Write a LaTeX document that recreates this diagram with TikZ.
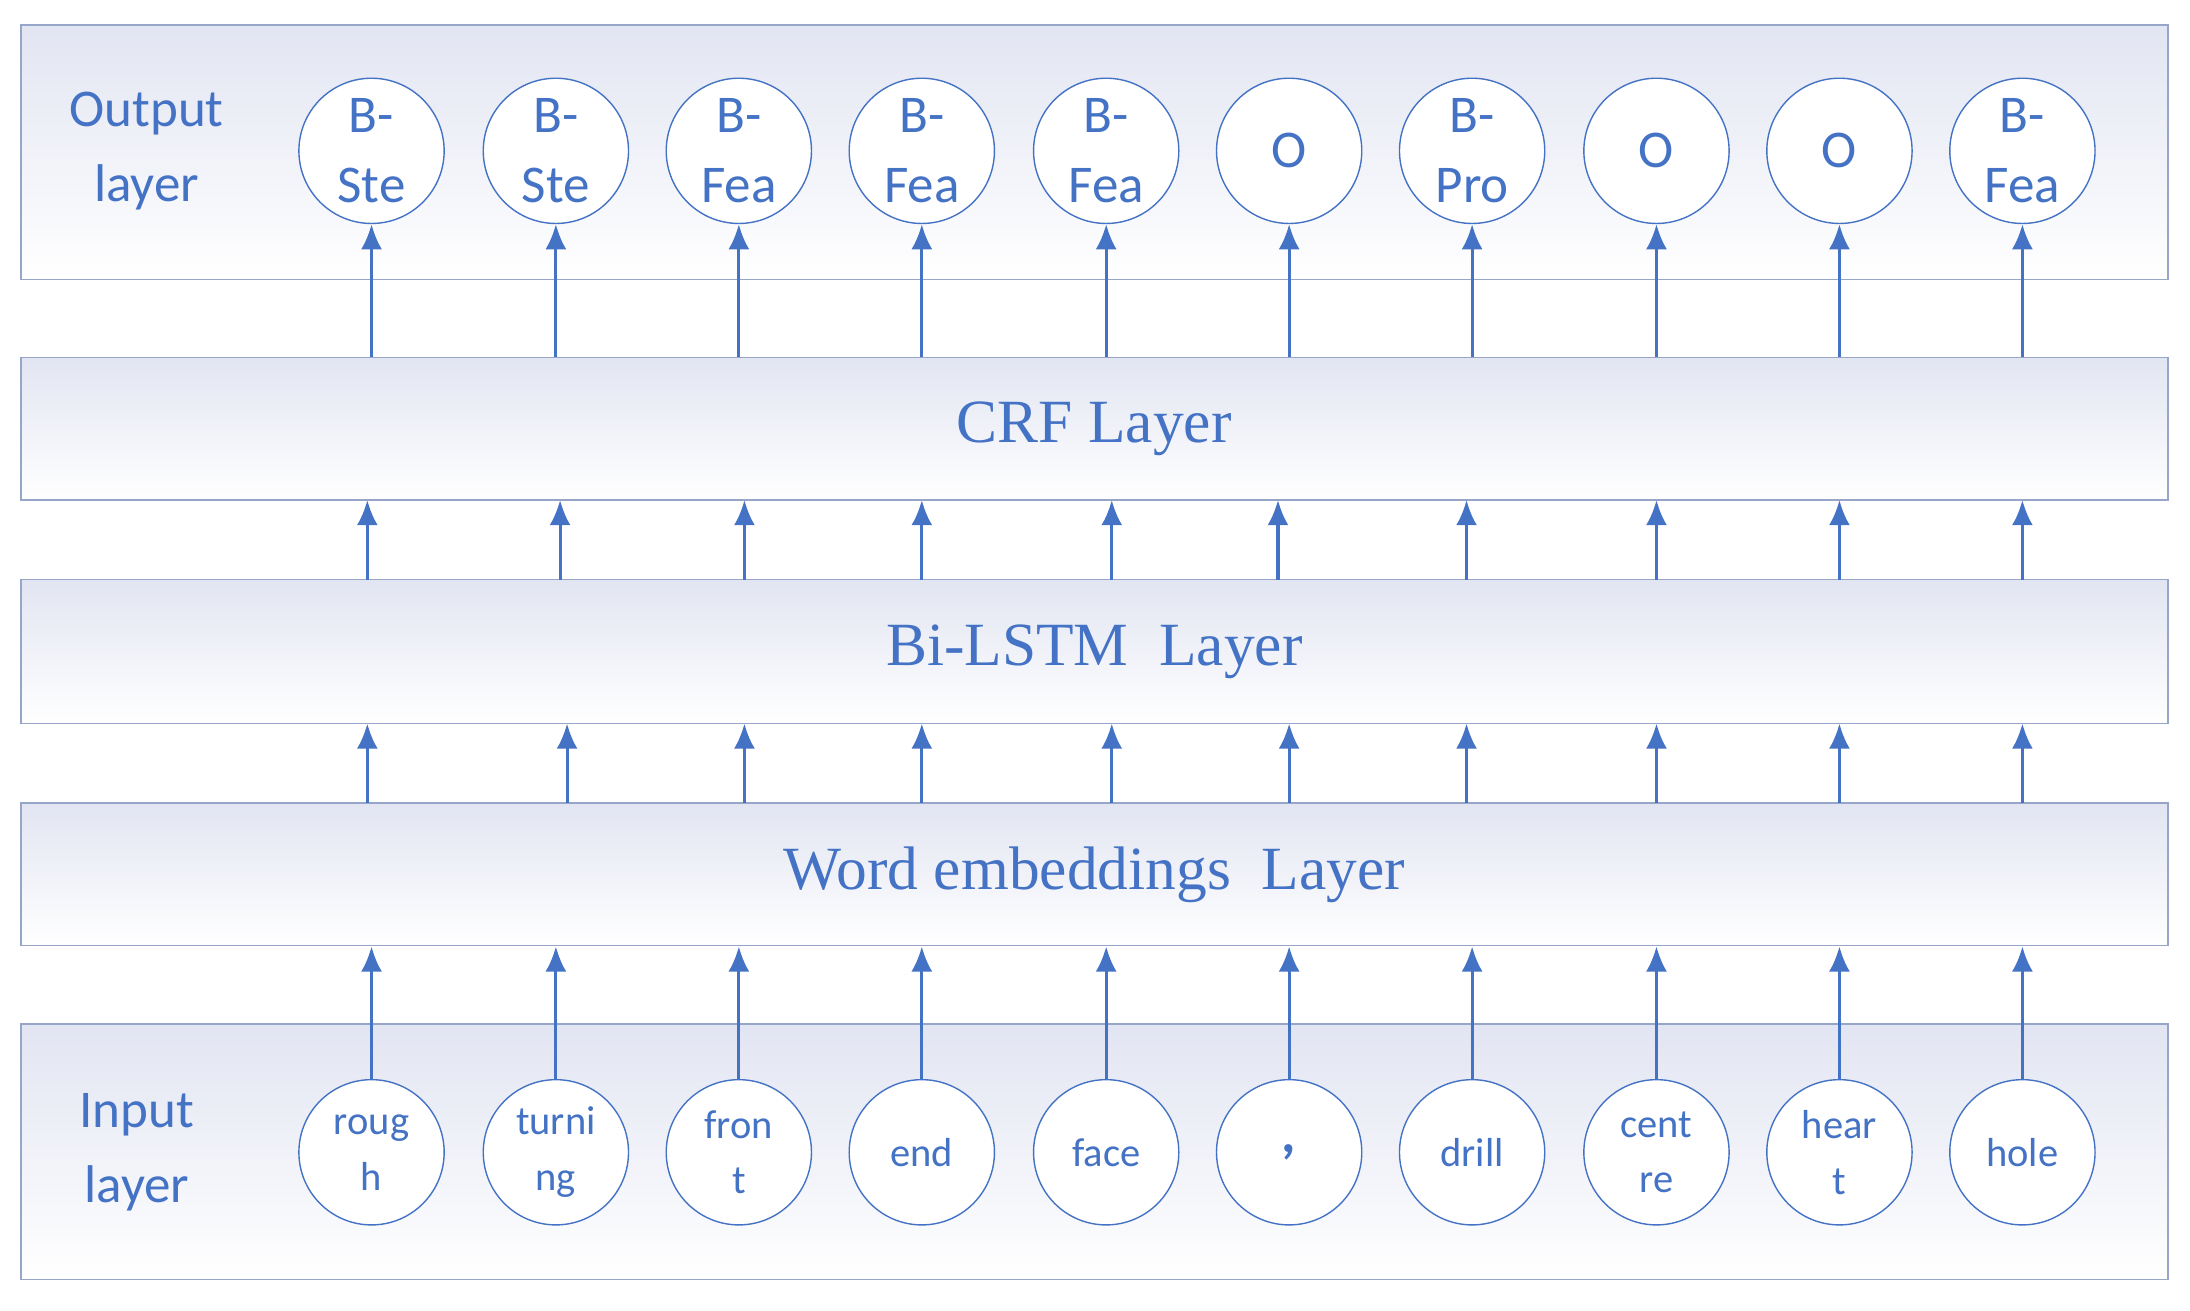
\documentclass[tikz,border=0pt]{standalone}
\usepackage{fontspec}
\usetikzlibrary{arrows.meta}
\setmainfont{Liberation Serif}
\newfontfamily\carl{Carlito}
\begin{document}
\definecolor{tb}{RGB}{68,114,196}
\definecolor{bd}{RGB}{150,165,200}
\definecolor{lav}{RGB}{226,229,242}
\begin{tikzpicture}[x=1pt,y=-1pt,
 lay/.style={draw=bd,line width=1.2pt,top color=lav,bottom color=white},
 circ/.style={circle,draw=tb,line width=1pt,fill=white,minimum size=104pt,inner sep=0pt,text=tb,font=\carl\fontsize{38}{50}\selectfont,align=center},
 icirc/.style={circ,font=\carl\fontsize{29}{40}\selectfont},
 arr/.style={draw=tb,line width=2.2pt,-{Latex[length=18pt,width=15pt]}},
 ltxt/.style={text=tb,font=\fontsize{44}{44}\selectfont},
 side/.style={text=tb,font=\carl\fontsize{38}{54}\selectfont,align=center}]
\useasboundingbox (0,0) rectangle (1568,938);
\fill[lay] (15,18) rectangle (1552,200);
\node[lay,minimum width=1537pt,minimum height=102pt,inner sep=0pt] (crf) at (783.5,307) {};
\node[lay,minimum width=1537pt,minimum height=103pt,inner sep=0pt] (bil) at (783.5,466.5) {};
\node[lay,minimum width=1537pt,minimum height=102pt,inner sep=0pt] (emb) at (783.5,626) {};
\fill[lay] (15,733) rectangle (1552,916);
\draw[bd,line width=1.2pt] (15,18) rectangle (1552,200) (15,733) rectangle (1552,916);
\node[ltxt] at (783.5,307) {CRF Layer};
\node[ltxt] at (783.5,466.5) {Bi-LSTM~ Layer};
\node[ltxt] at (783.5,626) {Word embeddings~ Layer};
\node[side] at (105,108) {Output\\layer};
\node[side] at (98,825) {Input\\layer};
\foreach \i/\x/\o/\n/\a/\b in {1/266/{B-\\Ste}/{roug\\h}/263/263,2/398/{B-\\Ste}/{turni\\ng}/401/406,3/529/{B-\\Fea}/{fron\\t}/533/533,4/660/{B-\\Fea}/end/660/660,5/792/{B-\\Fea}/face/796/796,6/923/O/{\textbf{\fontsize{40}{40}\selectfont,}}/915/923,7/1054/{B-\\Pro}/drill/1050/1050,8/1186/O/{cent\\re}/1186/1186,9/1317/O/{hear\\t}/1317/1317,10/1448/{B-\\Fea}/hole/1448/1448}{
 \node[circ] (o\i) at (\x,108) {\o};
 \node[icirc] (in\i) at (\x,825) {\n};
 \draw[arr] (in\i.north) -- (in\i.north |- emb.south);
 \draw[arr] (\b,575) -- (\b,518);
 \draw[arr] (\a,415) -- (\a,358);
 \draw[arr] (o\i.south |- crf.north) -- (o\i.south);
}
\end{tikzpicture}
\end{document}
